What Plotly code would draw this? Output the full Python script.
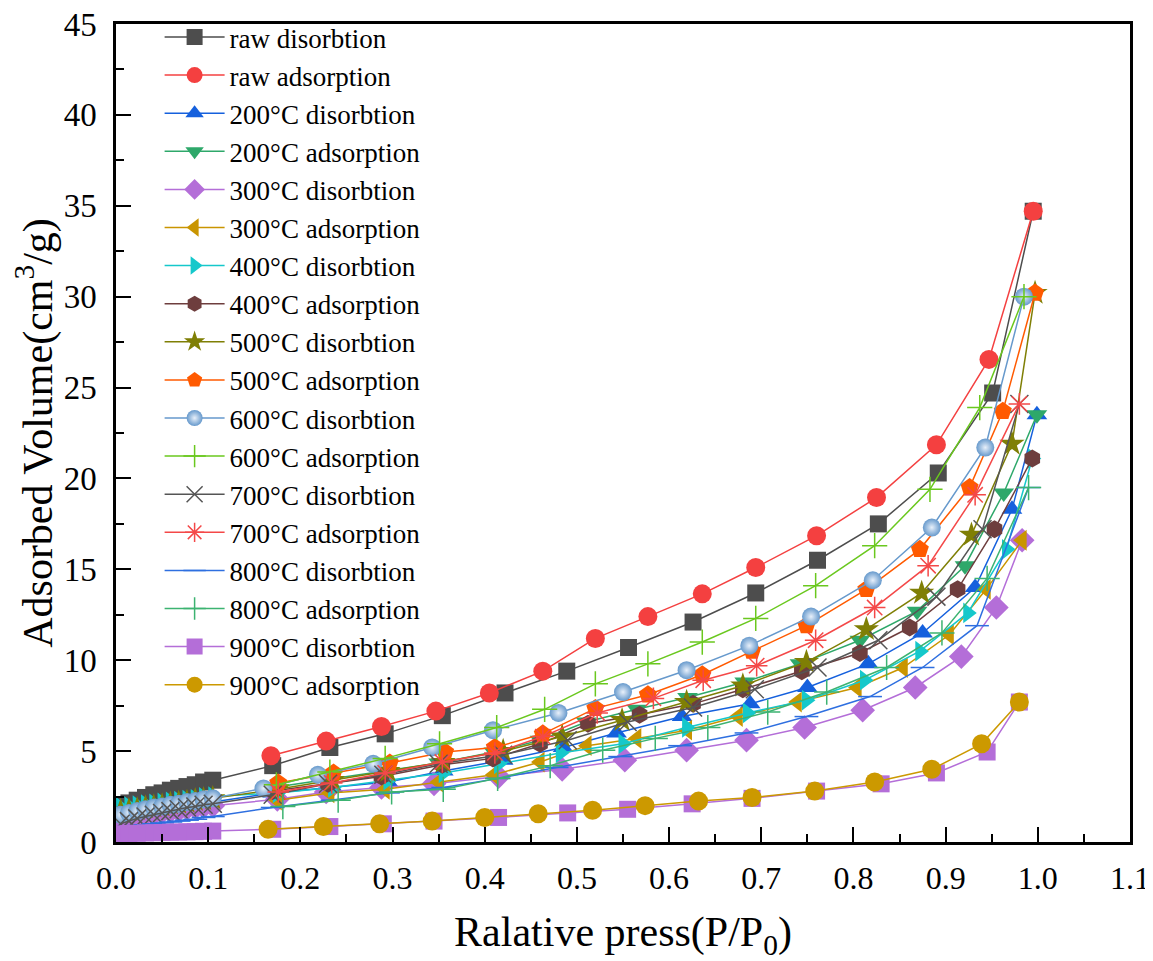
import plotly.graph_objects as go

# ---------------- data ----------------
low_x = [0.005, 0.014, 0.023, 0.032, 0.041, 0.050, 0.059, 0.068, 0.077, 0.086, 0.095, 0.105]

raw_dis_x = low_x + [0.170, 0.232, 0.292, 0.354, 0.422, 0.489, 0.556, 0.626, 0.694, 0.761, 0.827, 0.892, 0.951, 0.995]
raw_dis_y = [2.0, 2.15, 2.3, 2.45, 2.6, 2.7, 2.85, 2.95, 3.05, 3.15, 3.3, 3.4,
             4.2, 5.2, 5.95, 6.95, 8.2, 9.4, 10.7, 12.1, 13.7, 15.5, 17.5, 20.3, 24.7, 34.7]

raw_ads_x = [0.168, 0.228, 0.288, 0.347, 0.405, 0.463, 0.520, 0.577, 0.636, 0.694, 0.760, 0.825, 0.890, 0.947, 0.995]
raw_ads_y = [4.75, 5.55, 6.35, 7.2, 8.2, 9.4, 11.2, 12.4, 13.65, 15.1, 16.85, 18.95, 21.85, 26.55, 34.7]

d200_x = low_x + [0.170, 0.235, 0.295, 0.355, 0.420, 0.485, 0.543, 0.614, 0.688, 0.750, 0.816, 0.875, 0.932, 0.972, 0.999]
d200_y = [1.5, 1.6, 1.7, 1.75, 1.85, 1.9, 1.95, 2.0, 2.05, 2.1, 2.15, 2.2,
          2.7, 3.0, 3.3, 3.9, 4.5, 5.2, 6.0, 6.9, 7.6, 8.5, 9.8, 11.5, 14.0, 18.3, 23.5]

a200_x = [0.170, 0.230, 0.290, 0.350, 0.410, 0.460, 0.510, 0.565, 0.620, 0.682, 0.742, 0.807, 0.869, 0.921, 0.963, 0.999]
a200_y = [3.0, 3.45, 3.9, 4.35, 4.95, 5.6, 6.6, 7.3, 7.95, 8.8, 9.8, 11.1, 12.7, 15.2, 19.2, 23.5]

d300_x = low_x + [0.175, 0.228, 0.288, 0.345, 0.415, 0.484, 0.552, 0.619, 0.684, 0.747, 0.810, 0.867, 0.917, 0.955, 0.983]
d300_y = [1.2, 1.3, 1.4, 1.5, 1.55, 1.65, 1.7, 1.75, 1.85, 1.9, 1.95, 2.0,
          2.35, 2.75, 3.0, 3.2, 3.6, 4.0, 4.5, 5.05, 5.6, 6.3, 7.25, 8.5, 10.2, 12.9, 16.6]

a300_x = [0.175, 0.232, 0.292, 0.350, 0.410, 0.460, 0.511, 0.565, 0.620, 0.675, 0.739, 0.804, 0.854, 0.904, 0.944, 0.983]
a300_y = [2.3, 2.7, 2.9, 3.3, 3.7, 4.4, 5.3, 5.7, 6.15, 6.9, 7.7, 8.5, 9.6, 11.4, 13.9, 16.6]

d400_x = low_x + [0.175, 0.235, 0.295, 0.355, 0.415, 0.482, 0.550, 0.619, 0.685, 0.749, 0.812, 0.872, 0.924, 0.966, 0.994]
d400_y = [1.9, 1.95, 2.0, 2.05, 2.1, 2.15, 2.2, 2.25, 2.3, 2.35, 2.45, 2.5,
          2.7, 3.0, 3.4, 3.8, 4.3, 4.9, 5.4, 6.3, 7.1, 7.8, 8.9, 10.5, 12.6, 16.1, 21.1]

a400_x = [0.170, 0.230, 0.288, 0.354, 0.409, 0.460, 0.512, 0.568, 0.626, 0.680, 0.744, 0.807, 0.861, 0.913, 0.953, 0.994]
a400_y = [2.8, 3.2, 3.6, 4.25, 4.6, 5.4, 6.5, 7.0, 7.6, 8.4, 9.4, 10.4, 11.8, 13.9, 17.2, 21.1]

d500_x = low_x + [0.175, 0.235, 0.295, 0.355, 0.420, 0.484, 0.549, 0.619, 0.680, 0.749, 0.814, 0.874, 0.928, 0.972, 0.997]
d500_y = [1.7, 1.75, 1.8, 1.9, 1.95, 2.0, 2.1, 2.15, 2.2, 2.3, 2.35, 2.4,
          2.9, 3.4, 3.9, 4.4, 5.0, 5.8, 6.7, 7.7, 8.6, 9.9, 11.7, 13.7, 16.9, 21.9, 30.2]

a500_x = [0.176, 0.236, 0.297, 0.357, 0.411, 0.463, 0.520, 0.577, 0.636, 0.690, 0.749, 0.814, 0.872, 0.926, 0.962, 0.997]
a500_y = [3.25, 3.8, 4.35, 4.95, 5.2, 5.95, 7.35, 8.1, 9.2, 10.5, 11.9, 13.9, 16.1, 19.5, 23.7, 30.2]

d600_x = low_x + [0.160, 0.219, 0.279, 0.343, 0.409, 0.480, 0.550, 0.619, 0.687, 0.754, 0.821, 0.885, 0.943, 0.985]
d600_y = [1.5, 1.6, 1.7, 1.8, 1.9, 1.95, 2.05, 2.1, 2.2, 2.25, 2.35, 2.4,
          2.95, 3.7, 4.3, 5.2, 6.15, 7.1, 8.25, 9.45, 10.8, 12.4, 14.4, 17.3, 21.7, 30.0]

a600_x = [0.174, 0.232, 0.292, 0.351, 0.413, 0.465, 0.520, 0.577, 0.636, 0.694, 0.759, 0.823, 0.883, 0.937, 0.985]
a600_y = [3.15, 3.85, 4.6, 5.4, 6.3, 7.3, 8.7, 9.8, 11.0, 12.3, 14.1, 16.3, 19.4, 23.9, 30.0]

d700_x = low_x + [0.170, 0.230, 0.290, 0.350, 0.420, 0.490, 0.555, 0.626, 0.693, 0.761, 0.827, 0.890, 0.940, 0.980]
d700_y = [1.0, 1.15, 1.3, 1.4, 1.5, 1.6, 1.7, 1.8, 1.9, 1.95, 2.05, 2.1,
          2.6, 3.2, 3.7, 4.3, 4.8, 5.6, 6.6, 7.4, 8.4, 9.6, 11.1, 13.5, 17.2, 24.1]

a700_x = [0.176, 0.234, 0.292, 0.354, 0.411, 0.463, 0.522, 0.583, 0.637, 0.695, 0.759, 0.823, 0.881, 0.932, 0.980]
a700_y = [2.75, 3.25, 3.8, 4.4, 4.9, 5.8, 7.1, 7.9, 8.9, 9.7, 11.1, 12.9, 15.2, 19.1, 24.1]

d800_x = low_x + [0.170, 0.235, 0.295, 0.355, 0.415, 0.478, 0.547, 0.612, 0.684, 0.749, 0.818, 0.875, 0.934, 0.990]
d800_y = [0.8, 0.85, 0.9, 0.95, 1.0, 1.05, 1.1, 1.15, 1.2, 1.25, 1.35, 1.4,
          1.9, 2.3, 2.7, 3.0, 3.5, 4.1, 4.7, 5.3, 6.0, 6.9, 8.0, 9.6, 11.9, 19.5]

a800_x = [0.181, 0.241, 0.299, 0.355, 0.414, 0.471, 0.528, 0.585, 0.642, 0.707, 0.771, 0.836, 0.896, 0.945, 0.990]
a800_y = [1.95, 2.3, 2.75, 2.9, 3.5, 4.2, 5.05, 5.7, 6.3, 7.15, 8.25, 9.6, 11.5, 14.5, 19.5]

d900_x = low_x + [0.170, 0.232, 0.290, 0.345, 0.415, 0.490, 0.555, 0.625, 0.690, 0.760, 0.830, 0.890, 0.945, 0.980]
d900_y = [0.45, 0.47, 0.48, 0.5, 0.51, 0.52, 0.54, 0.55, 0.56, 0.57, 0.59, 0.6,
          0.7, 0.85, 1.0, 1.15, 1.35, 1.6, 1.8, 2.1, 2.4, 2.8, 3.2, 3.8, 4.95, 7.7]

a900_x = [0.165, 0.225, 0.286, 0.343, 0.400, 0.458, 0.517, 0.574, 0.632, 0.690, 0.758, 0.823, 0.885, 0.939, 0.980]
a900_y = [0.7, 0.85, 1.0, 1.15, 1.35, 1.55, 1.75, 2.0, 2.25, 2.45, 2.8, 3.3, 4.0, 5.4, 7.7]

names = ["raw disorbtion", "raw adsorption", "200°C disorbtion", "200°C adsorption",
         "300°C disorbtion", "300°C adsorption", "400°C disorbtion", "400°C adsorption",
         "500°C disorbtion", "500°C adsorption", "600°C disorbtion", "600°C adsorption",
         "700°C disorbtion", "700°C adsorption", "800°C disorbtion", "800°C adsorption",
         "900°C disorbtion", "900°C adsorption"]

xs = [raw_dis_x, raw_ads_x, d200_x, a200_x, d300_x, a300_x, d400_x, a400_x, d500_x,
      a500_x, d600_x, a600_x, d700_x, a700_x, d800_x, a800_x, d900_x, a900_x]
ys = [raw_dis_y, raw_ads_y, d200_y, a200_y, d300_y, a300_y, d400_y, a400_y, d500_y,
      a500_y, d600_y, a600_y, d700_y, a700_y, d800_y, a800_y, d900_y, a900_y]

x_ticks = [0.0, 0.1, 0.2, 0.3, 0.4, 0.5, 0.6, 0.7, 0.8, 0.9, 1.0, 1.1]
y_ticks = [0, 5, 10, 15, 20, 25, 30, 35, 40, 45]

# ---------------- styles ----------------
colors = ["#4d4d4d", "#f44040", "#1560dd", "#2ea86a", "#b46ed8", "#c99500",
          "#15c8cb", "#6e3e3e", "#7f7f05", "#ff5a00", "#6699cc", "#6ac81e",
          "#555555", "#f44848", "#2e6fe0", "#3cb371", "#b46ed8", "#cc9900"]
symbols = ["square", "circle", "triangle-up", "triangle-down", "diamond", "triangle-left",
           "triangle-right", "hexagon", "star", "pentagon", "circle", "cross-thin-open",
           "x-thin-open", "asterisk-open", "line-ew-open", "cross-thin-open", "square", "circle"]
sizes = [17, 19, 18, 18, 19, 18, 18, 18, 19, 19, 18, 18, 18, 18, 17, 18, 17, 19]

FONT = "'Liberation Serif', 'Times New Roman', serif"

fig = go.Figure()
for i in range(len(names)):
    marker = dict(symbol=symbols[i], size=sizes[i], color=colors[i],
                  line=dict(width=0, color=colors[i]))
    if symbols[i].endswith("-open"):
        marker["line"] = dict(width=1.5, color=colors[i])
    if i == 10:
        marker["gradient"] = dict(type="radial", color="#e8f0fa")
    fig.add_trace(go.Scatter(
        x=xs[i], y=ys[i], name=names[i], mode="lines+markers",
        line=dict(color=colors[i], width=1.5),
        marker=marker,
    ))

# page body has an 8px margin: the figure is sized so the plot box lands where the reference has it
fig.update_layout(
    width=1145, height=953,
    paper_bgcolor="white", plot_bgcolor="white",
    margin=dict(l=108, r=23, t=16, b=119, autoexpand=False),
    font=dict(family=FONT, size=27, color="black"),
    showlegend=True,
    legend=dict(x=0.043, y=1.0135, xanchor="left", yanchor="top",
                bgcolor="rgba(0,0,0,0)", font=dict(family=FONT, size=27),
                tracegroupgap=0, itemwidth=60, maxheight=930),
    xaxis=dict(range=[0, 1.1], tickvals=x_ticks, ticktext=[f"{v:.1f}" for v in x_ticks],
               ticks="inside", ticklen=15, tickwidth=2, tickcolor="black",
               minor=dict(dtick=0.05, tick0=0, ticks="inside", ticklen=8, tickwidth=2, tickcolor="black"),
               showline=True, linewidth=2.5, linecolor="black", mirror=True,
               showgrid=False, zeroline=False, automargin=False,
               tickfont=dict(family=FONT, size=32), ticklabelstandoff=6,
               ticklabeloverflow="allow",
               title=dict(text="Ralative press(P/P<sub>0</sub>)", font=dict(family=FONT, size=42), standoff=36)),
    yaxis=dict(range=[0, 45], tickvals=y_ticks,
               ticks="inside", ticklen=15, tickwidth=2, tickcolor="black",
               minor=dict(dtick=2.5, tick0=0, ticks="inside", ticklen=8, tickwidth=2, tickcolor="black"),
               showline=True, linewidth=2.5, linecolor="black", mirror=True,
               showgrid=False, zeroline=False, automargin=False,
               tickfont=dict(family=FONT, size=33), ticklabelstandoff=10,
               ticklabeloverflow="allow",
               title=dict(text="Adsorbed Volume(cm<sup>3</sup>/g)", font=dict(family=FONT, size=42), standoff=6)),
)

fig.write_html("out.html")
